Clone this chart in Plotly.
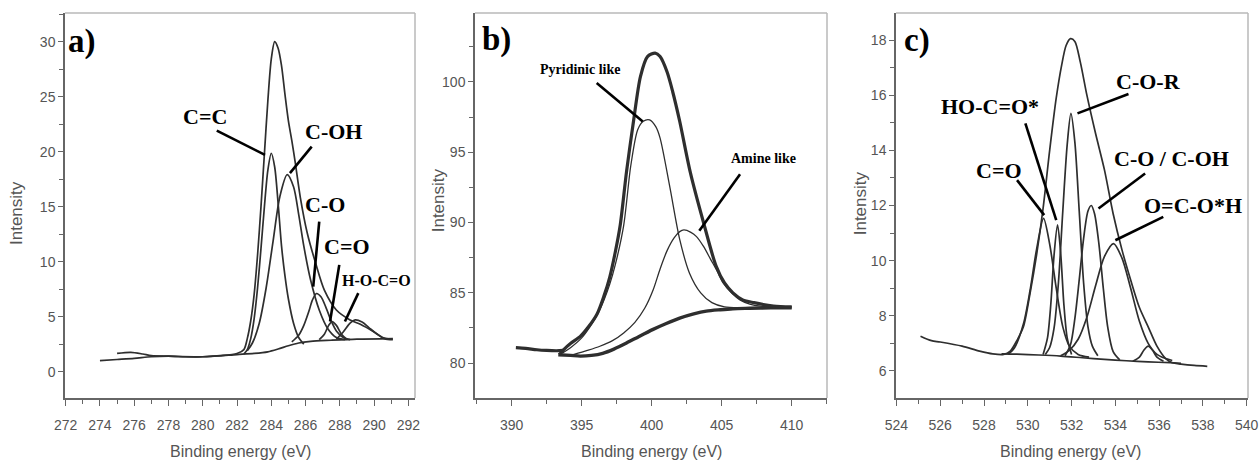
import plotly.graph_objects as go

# ---------------- Panel a) C1s ----------------
a_env_x = [274.0, 275.0, 276.0, 277.0, 278.0, 279.0, 280.0, 281.0, 282.0, 282.4, 282.6, 282.8, 283.0, 283.2,
           283.4, 283.6, 283.8, 284.0, 284.2, 284.4, 284.6, 284.8, 285.0, 285.2, 285.4, 285.7, 286.1, 286.6,
           287.1, 287.8, 288.6, 289.2, 290.0, 290.6, 291.1]
a_env_y = [1.0, 1.1, 1.2, 1.35, 1.4, 1.35, 1.35, 1.45, 1.65, 2.0, 3.0, 4.6, 7.0, 10.6,
           15.0, 19.8, 24.6, 28.4, 30.0, 29.4, 27.8, 25.2, 22.8, 21.0, 19.0, 15.8, 12.6, 9.8,
           7.4, 5.6, 4.7, 4.3, 3.6, 3.0, 2.9]
a_bg_x = [275.0, 275.8, 276.5, 277.0, 278.0, 280.0, 282.0, 283.0, 283.8, 284.4, 285.0, 285.6, 286.3, 287.5, 289.0, 291.1]
a_bg_y = [1.65, 1.75, 1.6, 1.45, 1.4, 1.35, 1.55, 1.65, 1.8, 2.05, 2.35, 2.6, 2.75, 2.85, 2.95, 3.0]
a_cc_x = [282.4, 282.6, 282.8, 283.0, 283.2, 283.4, 283.6, 283.8, 284.0, 284.2, 284.4, 284.6, 284.8, 285.0, 285.3, 285.6, 285.9]
a_cc_y = [1.6, 2.0, 3.0, 4.8, 7.6, 11.2, 15.0, 18.3, 19.85, 18.6, 15.3, 11.4, 8.7, 6.6, 4.4, 3.1, 2.5]
a_coh_x = [282.6, 282.9, 283.3, 283.7, 284.1, 284.5, 284.93, 285.3, 285.6, 285.9, 286.3, 286.8, 287.3, 287.8, 288.3]
a_coh_y = [1.9, 2.6, 4.4, 7.6, 11.8, 15.9, 17.9, 16.8, 14.3, 11.4, 8.3, 5.6, 3.9, 3.1, 2.9]
a_co_x = [285.2, 285.6, 285.9, 286.2, 286.4, 286.64, 286.9, 287.2, 287.5, 287.8, 288.2, 288.6]
a_co_y = [2.7, 3.3, 4.2, 5.5, 6.5, 7.1, 6.8, 5.8, 4.6, 3.7, 3.1, 2.9]
a_cdo_x = [286.8, 287.1, 287.35, 287.55, 287.8, 288.1, 288.4]
a_cdo_y = [2.9, 3.4, 4.2, 4.55, 4.2, 3.4, 2.95]
a_hoco_x = [287.8, 288.2, 288.6, 288.9, 289.3, 289.7, 290.1, 290.5, 290.9]
a_hoco_y = [2.95, 3.6, 4.4, 4.7, 4.5, 4.0, 3.5, 3.1, 2.95]

# ---------------- Panel b) N1s ----------------
b_raw_x = [390.3, 391.0, 391.8, 392.5, 393.2, 393.7]
b_raw_y = [81.1, 81.05, 80.95, 80.9, 80.88, 80.9]
b_env_x = [393.4, 393.7, 394.2, 394.9, 395.5, 396.1, 396.6, 397.0, 397.4, 397.75, 398.2, 398.7, 399.2, 399.7,
           400.25, 400.6, 401.1, 401.5, 402.0, 402.75, 403.7, 404.6, 405.2, 405.8, 406.5, 407.3, 408.7, 410.0]
b_env_y = [80.6, 80.95, 81.4, 81.9, 82.6, 83.5, 84.8, 86.1, 87.9, 89.8, 93.6, 97.2, 100.4, 101.8,
           102.05, 101.8, 100.7, 99.3, 97.2, 93.6, 90.0, 86.9, 85.7, 85.0, 84.5, 84.3, 84.06, 84.0]
b_bg_x = [393.33, 394.2, 394.9, 395.7, 396.5, 397.3, 398.2, 399.1, 400.1, 401.0, 402.0, 403.0, 403.9, 404.9,
          405.8, 407.0, 408.5, 410.0]
b_bg_y = [80.6, 80.55, 80.5, 80.55, 80.7, 81.0, 81.43, 81.9, 82.4, 82.8, 83.2, 83.5, 83.7, 83.8,
          83.87, 83.9, 83.93, 83.94]
b_pyr_x = [393.6, 394.2, 395.0, 395.6, 396.2, 396.6, 397.0, 397.4, 398.0, 398.5, 399.0, 399.4, 399.85, 400.3,
           400.6, 401.3, 402.0, 402.7, 403.5, 404.3, 405.2, 406.2]
b_pyr_y = [80.7, 81.1, 81.8, 82.6, 83.6, 84.5, 85.6, 87.0, 89.8, 94.0, 96.6, 97.2, 97.3, 96.8,
           96.0, 92.5, 88.8, 86.4, 85.0, 84.3, 84.0, 83.95]
b_am_x = [394.4, 395.4, 396.3, 397.2, 398.0, 398.8, 399.5, 400.1, 400.6, 401.1, 401.6, 402.0,
          402.3, 402.8, 403.2, 403.7, 404.2, 404.7, 405.1, 405.7, 406.3, 407.0, 407.8, 408.9]
b_am_y = [80.6, 80.9, 81.2, 81.6, 82.15, 82.9, 83.9, 85.2, 86.7, 88.0, 88.9, 89.35,
          89.47, 89.3, 89.0, 88.3, 87.4, 86.5, 85.7, 85.0, 84.5, 84.2, 84.05, 84.0]

# ---------------- Panel c) O1s ----------------
c_env_x = [525.1, 525.6, 526.0, 527.0, 527.8, 528.4, 528.9, 529.2, 529.5, 529.8, 530.1, 530.4, 530.7, 531.0,
           531.3, 531.55, 531.75, 531.95, 532.15, 532.4, 532.7, 533.1, 533.5, 533.9, 534.3, 534.7, 535.1,
           535.5, 535.9, 536.3, 536.6, 537.0, 537.6, 538.2]
c_env_y = [7.26, 7.1, 7.05, 6.9, 6.72, 6.62, 6.6, 6.72, 7.1, 7.6, 8.8, 10.2, 11.9, 14.0,
           15.9, 17.1, 17.8, 18.05, 17.95, 17.2, 16.0, 14.6, 13.3, 11.7, 10.4, 9.3, 8.3,
           7.6, 6.9, 6.45, 6.3, 6.25, 6.2, 6.17]
c_bg_x = [528.8, 529.5, 530.5, 531.5, 532.5, 533.5, 534.5, 535.5, 536.5, 537.0]
c_bg_y = [6.62, 6.61, 6.58, 6.54, 6.48, 6.42, 6.37, 6.33, 6.3, 6.28]
c_cdo_x = [529.1, 529.4, 529.8, 530.1, 530.4, 530.72, 531.0, 531.3, 531.6, 531.9, 532.3, 532.8]
c_cdo_y = [6.6, 6.85, 7.7, 8.9, 10.4, 11.53, 10.6, 9.0, 7.6, 6.9, 6.6, 6.5]
c_hoco_x = [530.7, 530.9, 531.05, 531.2, 531.36, 531.5, 531.65, 531.8, 532.0]
c_hoco_y = [6.6, 7.2, 8.4, 10.2, 11.3, 10.3, 8.4, 7.2, 6.6]
c_cor_x = [530.8, 531.0, 531.2, 531.4, 531.6, 531.8, 531.97, 532.15, 532.35, 532.55, 532.75, 532.95, 533.2]
c_cor_y = [6.6, 6.85, 7.55, 9.2, 11.8, 14.2, 15.34, 14.3, 11.8, 9.2, 7.6, 6.9, 6.55]
c_coh_x = [531.7, 531.95, 532.15, 532.35, 532.55, 532.75, 532.9, 533.05, 533.25, 533.45, 533.65, 533.9, 534.2]
c_coh_y = [6.55, 6.95, 7.9, 9.3, 10.8, 11.8, 12.0, 11.7, 10.6, 9.0, 7.6, 6.7, 6.4]
c_ocoh_x = [531.5, 531.9, 532.3, 532.7, 533.1, 533.5, 533.92, 534.3, 534.7, 535.1, 535.5, 535.9, 536.3, 536.6]
c_ocoh_y = [6.55, 6.75, 7.15, 7.95, 9.1, 10.15, 10.62, 10.1, 9.0, 7.8, 7.0, 6.6, 6.45, 6.38]
c_small_x = [534.8, 535.1, 535.3, 535.5, 535.7, 535.9, 536.2]
c_small_y = [6.35, 6.5, 6.75, 6.9, 6.75, 6.5, 6.35]

# ---------------- Labels ----------------
panel_labels = ["a)", "b)", "c)"]
a_peak_labels = ["C=C", "C-OH", "C-O", "C=O", "H-O-C=O"]
b_peak_labels = ["Pyridinic like", "Amine like"]
c_peak_labels = ["C=O", "HO-C=O*", "C-O-R", "C-O / C-OH", "O=C-O*H"]
x_title = "Binding energy (eV)"
y_title = "Intensity"

LINE = "#2e2e2e"
W, H = 1259, 464

fig = go.Figure()


def add_curve(x, y, axis, width):
    fig.add_trace(go.Scatter(
        x=x, y=y, mode="lines", xaxis="x" + axis, yaxis="y" + axis,
        line=dict(color=LINE, width=width, shape="spline", smoothing=0.8),
        showlegend=False, hoverinfo="skip"))


# panel a
for xs, ys in [(a_bg_x, a_bg_y), (a_cc_x, a_cc_y), (a_coh_x, a_coh_y), (a_co_x, a_co_y),
               (a_cdo_x, a_cdo_y), (a_hoco_x, a_hoco_y), (a_env_x, a_env_y)]:
    add_curve(xs, ys, "", 1.7)
# panel b
for xs, ys, w in [(b_raw_x, b_raw_y, 3.2), (b_bg_x, b_bg_y, 3.4), (b_pyr_x, b_pyr_y, 1.3),
                  (b_am_x, b_am_y, 1.3), (b_env_x, b_env_y, 3.2)]:
    add_curve(xs, ys, "2", w)
# panel c
for xs, ys in [(c_bg_x, c_bg_y), (c_cdo_x, c_cdo_y), (c_hoco_x, c_hoco_y), (c_cor_x, c_cor_y),
               (c_coh_x, c_coh_y), (c_ocoh_x, c_ocoh_y), (c_small_x, c_small_y), (c_env_x, c_env_y)]:
    add_curve(xs, ys, "3", 1.7)

# ---------------- Axes ----------------
TICKFONT = dict(family="Liberation Sans, Arial, sans-serif", size=14, color="#555555")


def xax(domain, rng, dtick, minor, anchor):
    return dict(domain=domain, range=rng, anchor=anchor, dtick=dtick, tick0=0, automargin=False,
                showgrid=False, zeroline=False, showline=True, linecolor="#666666", linewidth=1.5,
                ticks="outside", ticklen=6, tickwidth=1.3, tickcolor="#666666",
                ticklabelstandoff=7,
                minor=dict(dtick=minor, tick0=0, ticks="outside", ticklen=4, tickwidth=1.2,
                           tickcolor="#666666", showgrid=False),
                tickfont=TICKFONT)


def yax(domain, rng, dtick, minor, anchor):
    return dict(domain=domain, range=rng, anchor=anchor, dtick=dtick, tick0=0, automargin=False,
                showgrid=False, zeroline=False, showline=True, linecolor="#666666", linewidth=1.5,
                ticks="outside", ticklen=5, tickwidth=1.3, tickcolor="#666666",
                minor=dict(dtick=minor, tick0=0, ticks="outside", ticklen=4, tickwidth=1.2,
                           tickcolor="#666666", showgrid=False),
                tickfont=TICKFONT)


ydom = [1 - 398 / H, 1 - 13 / H]
dom_a = [65 / W, 415 / W]
dom_b = [475 / W, 827 / W]
dom_c = [896 / W, 1248 / W]

fig.update_layout(
    width=W, height=H, autosize=False,
    margin=dict(l=0, r=0, t=0, b=0, pad=0),
    paper_bgcolor="white", plot_bgcolor="white",
    xaxis=xax(dom_a, [271.96, 292.39], 2, 1, "y"),
    yaxis=yax(ydom, [-2.4, 32.6], 5, 2.5, "x"),
    xaxis2=xax(dom_b, [387.38, 412.52], 5, 2.5, "y2"),
    yaxis2=yax(ydom, [77.52, 104.9], 5, 2.5, "x2"),
    xaxis3=xax(dom_c, [523.98, 540.06], 2, 1, "y3"),
    yaxis3=yax(ydom, [5.02, 18.98], 2, 1, "x3"),
)

# light top/right frame lines
shapes = []
for ax in ["x", "x2", "x3"]:
    yref = "y" + ax[1:]
    shapes.append(dict(type="line", xref=ax + " domain", yref=yref + " domain", x0=0, x1=1, y0=1, y1=1,
                       line=dict(color="#b8b8b8", width=1.5)))
    shapes.append(dict(type="line", xref=ax + " domain", yref=yref + " domain", x0=1, x1=1, y0=0, y1=1,
                       line=dict(color="#b8b8b8", width=1.5)))

# leader lines (tail -> peak), data coordinates
leaders = [
    ("x", "y", 280.82, 21.9, 283.63, 19.7),
    ("x", "y", 286.36, 20.45, 285.09, 18.04),
    ("x", "y", 286.8, 13.64, 286.45, 7.73),
    ("x", "y", 287.97, 9.7, 287.43, 4.55),
    ("x", "y", 289.08, 7.13, 288.3, 4.55),
    ("x2", "y2", 396.07, 99.93, 399.36, 97.19),
    ("x2", "y2", 406.31, 93.43, 403.4, 89.42),
    ("x3", "y3", 529.51, 12.92, 530.75, 11.65),
    ("x3", "y3", 529.89, 14.98, 531.3, 11.47),
    ("x3", "y3", 534.6, 16.04, 532.27, 15.34),
    ("x3", "y3", 535.36, 13.16, 533.23, 11.89),
    ("x3", "y3", 536.19, 11.59, 534.0, 10.74),
]
for xr, yr, x0, y0, x1, y1 in leaders:
    shapes.append(dict(type="line", xref=xr, yref=yr, x0=x0, y0=y0, x1=x1, y1=y1,
                       line=dict(color="black", width=2.6)))
fig.update_layout(shapes=shapes)

SERIF = "Liberation Serif, Times New Roman, serif"
ann = []
# panel letters
for (xr, yr, x, y), txt in zip([("x", "y", 272.95, 30.0), ("x2", "y2", 388.93, 103.04),
                                ("x3", "y3", 524.94, 17.97)], panel_labels):
    ann.append(dict(xref=xr, yref=yr, x=x, y=y, text="<b>%s</b>" % txt, showarrow=False,
                    font=dict(family=SERIF, size=33, color="black"), xanchor="center", yanchor="middle"))

a_pos = [(280.13, 23.2, 22), (287.62, 21.8, 22), (287.14, 15.15, 22), (288.4, 11.36, 22), (290.16, 8.25, 16)]
for (x, y, s), txt in zip(a_pos, a_peak_labels):
    ann.append(dict(xref="x", yref="y", x=x, y=y, text="<b>%s</b>" % txt, showarrow=False,
                    font=dict(family=SERIF, size=s, color="black")))
b_pos = [(394.88, 100.88), (407.97, 94.56)]
for (x, y), txt in zip(b_pos, b_peak_labels):
    ann.append(dict(xref="x2", yref="y2", x=x, y=y, text="<b>%s</b>" % txt, showarrow=False,
                    font=dict(family=SERIF, size=14, color="black")))
c_pos = [(528.67, 13.28), (528.29, 15.58), (535.51, 16.49), (536.58, 13.71), (537.56, 12.01)]
for (x, y), txt in zip(c_pos, c_peak_labels):
    ann.append(dict(xref="x3", yref="y3", x=x, y=y, text="<b>%s</b>" % txt, showarrow=False,
                    font=dict(family=SERIF, size=22, color="black")))

# axis titles
AXFONT = dict(family="Liberation Sans, Arial, sans-serif", size=16, color="#555555")
for xc in [240.7, 651.7, 1070.8]:
    ann.append(dict(xref="paper", yref="paper", x=xc / W, y=1 - 451.7 / H, text=x_title, showarrow=False,
                    font=AXFONT, xanchor="center", yanchor="middle"))
for xc, yc in [(16.7, 213.3), (438.3, 200.0), (860.0, 203.3)]:
    ann.append(dict(xref="paper", yref="paper", x=xc / W, y=1 - yc / H, text=y_title, showarrow=False,
                    font=dict(family="Liberation Sans, Arial, sans-serif", size=17, color="#555555"),
                    textangle=-90, xanchor="center", yanchor="middle"))
fig.update_layout(annotations=ann)

fig.write_html(
    "out.html",
    config={"displayModeBar": False, "responsive": False},
    post_script="document.body.style.margin='0';document.body.style.padding='0';"
                "document.body.style.overflow='hidden';document.documentElement.style.overflow='hidden';",
)
